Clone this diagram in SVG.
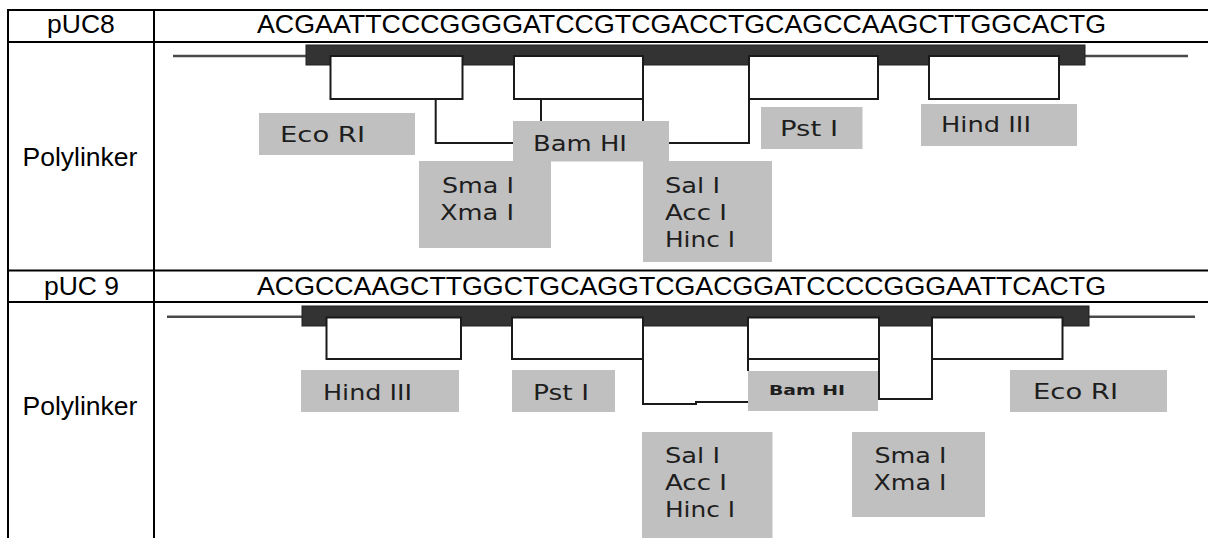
<svg xmlns="http://www.w3.org/2000/svg" width="1208" height="538" viewBox="0 0 1208 538">
<style>
.grid{stroke:#000;stroke-width:2;fill:none}
.hdr{font-family:"Liberation Sans",Arial,sans-serif;font-size:26.5px;fill:#000}
.thin{stroke:#4a4a4a;stroke-width:2.5;fill:none}
.bar{fill:#333;stroke:#222;stroke-width:1}
.box{fill:#fff;stroke:#1a1a1a;stroke-width:2}
.con{stroke:#1a1a1a;stroke-width:2;fill:none}
.lbl{fill:#c0c0c0}
.lt{font-family:"DejaVu Sans",Verdana,sans-serif;font-size:21px;fill:#1e1e1e}
.lts{font-family:"DejaVu Sans",Verdana,sans-serif;font-size:14px;font-weight:bold;fill:#1e1e1e}
</style>
<rect width="1208" height="538" fill="#fff"/>
<g id="table">
<path class="grid" d="M8,10H1208M8,42H1208M8,270.5H1208M8,302H1208M8,9V538M154,9V538"/>
<text class="hdr" x="81" y="33" text-anchor="middle">pUC8</text>
<text class="hdr" x="257" y="33" textLength="849" lengthAdjust="spacingAndGlyphs">ACGAATTCCCGGGGATCCGTCGACCTGCAGCCAAGCTTGGCACTG</text>
<text class="hdr" x="80" y="166" text-anchor="middle">Polylinker</text>
<text class="hdr" x="81.5" y="295" text-anchor="middle">pUC 9</text>
<text class="hdr" x="257" y="295" textLength="849" lengthAdjust="spacingAndGlyphs">ACGCCAAGCTTGGCTGCAGGTCGACGGATCCCCGGGAATTCACTG</text>
<text class="hdr" x="80" y="415" text-anchor="middle">Polylinker</text>
</g>
<g id="pUC8-map">
<path class="thin" d="M173,56H306M1084,56H1188"/>
<rect class="bar" x="306" y="45" width="779" height="20"/>
<rect class="box" x="330.5" y="56" width="132" height="43"/>
<rect class="box" x="514" y="56" width="129" height="43"/>
<rect class="box" x="749" y="56" width="129" height="43"/>
<rect class="box" x="929" y="56" width="130" height="43"/>
</g>
<g id="pUC9-map">
<path class="thin" d="M167,316.7H302M1089,316.7H1195"/>
<rect class="bar" x="302" y="306" width="787" height="20"/>
<rect class="box" x="326.5" y="317.5" width="134.5" height="41.5"/>
<rect class="box" x="512" y="317.5" width="131" height="41.5"/>
<rect class="box" x="748" y="317.5" width="131" height="41.5"/>
<rect class="box" x="932" y="317.5" width="130.5" height="41.5"/>
</g>
<g id="connectors">
<path class="con" d="M435.7,99V143H514"/>
<path class="con" d="M541,99V121"/>
<path class="con" d="M643,99V121"/>
<path class="con" d="M668,143H749V99"/>
<path class="con" d="M643,359V404H696V402H748"/>
<path class="con" d="M748,359V371"/>
<path class="con" d="M879,359V399H932V359"/>
</g>
<g id="top-EcoRI"><rect class="lbl" x="259" y="113" width="156" height="42"/><text class="lt" x="280" y="142" textLength="85" lengthAdjust="spacingAndGlyphs">Eco RI</text></g>
<g id="top-SmaI"><rect class="lbl" x="419" y="161" width="132" height="87"/><text class="lt" x="442" y="193" textLength="72" lengthAdjust="spacingAndGlyphs">Sma I</text><text class="lt" x="440" y="220" textLength="74" lengthAdjust="spacingAndGlyphs">Xma I</text></g>
<g id="top-BamHI"><rect class="lbl" x="513" y="121" width="156" height="40.5"/><text class="lt" x="533" y="151" textLength="94" lengthAdjust="spacingAndGlyphs">Bam HI</text></g>
<g id="top-SalI"><rect class="lbl" x="643" y="161" width="129" height="101"/><text class="lt" x="665" y="193" textLength="55" lengthAdjust="spacingAndGlyphs">Sal I</text><text class="lt" x="665" y="220" textLength="62" lengthAdjust="spacingAndGlyphs">Acc I</text><text class="lt" x="665" y="247" textLength="70" lengthAdjust="spacingAndGlyphs">Hinc I</text></g>
<g id="top-PstI"><rect class="lbl" x="761" y="107" width="101.5" height="42"/><text class="lt" x="780" y="136" textLength="58" lengthAdjust="spacingAndGlyphs">Pst I</text></g>
<g id="top-HindIII"><rect class="lbl" x="921" y="104" width="156" height="42"/><text class="lt" x="941" y="132" textLength="90" lengthAdjust="spacingAndGlyphs">Hind III</text></g>
<g id="bot-HindIII"><rect class="lbl" x="301" y="370" width="158" height="42"/><text class="lt" x="323" y="400" textLength="89" lengthAdjust="spacingAndGlyphs">Hind III</text></g>
<g id="bot-PstI"><rect class="lbl" x="512" y="370" width="103" height="42"/><text class="lt" x="533" y="400" textLength="56" lengthAdjust="spacingAndGlyphs">Pst I</text></g>
<g id="bot-BamHI"><rect class="lbl" x="748" y="371" width="130" height="40"/><text class="lts" x="769" y="395" textLength="76" lengthAdjust="spacingAndGlyphs">Bam HI</text></g>
<g id="bot-EcoRI"><rect class="lbl" x="1010" y="370" width="157" height="42"/><text class="lt" x="1033" y="399" textLength="85" lengthAdjust="spacingAndGlyphs">Eco RI</text></g>
<g id="bot-SalI"><rect class="lbl" x="642" y="432" width="130.5" height="106"/><text class="lt" x="665" y="463" textLength="55" lengthAdjust="spacingAndGlyphs">Sal I</text><text class="lt" x="665" y="490" textLength="62" lengthAdjust="spacingAndGlyphs">Acc I</text><text class="lt" x="665" y="517" textLength="70" lengthAdjust="spacingAndGlyphs">Hinc I</text></g>
<g id="bot-SmaI"><rect class="lbl" x="852" y="432" width="133" height="85"/><text class="lt" x="874.5" y="463" textLength="72" lengthAdjust="spacingAndGlyphs">Sma I</text><text class="lt" x="873.5" y="490" textLength="73" lengthAdjust="spacingAndGlyphs">Xma I</text></g>
</svg>
